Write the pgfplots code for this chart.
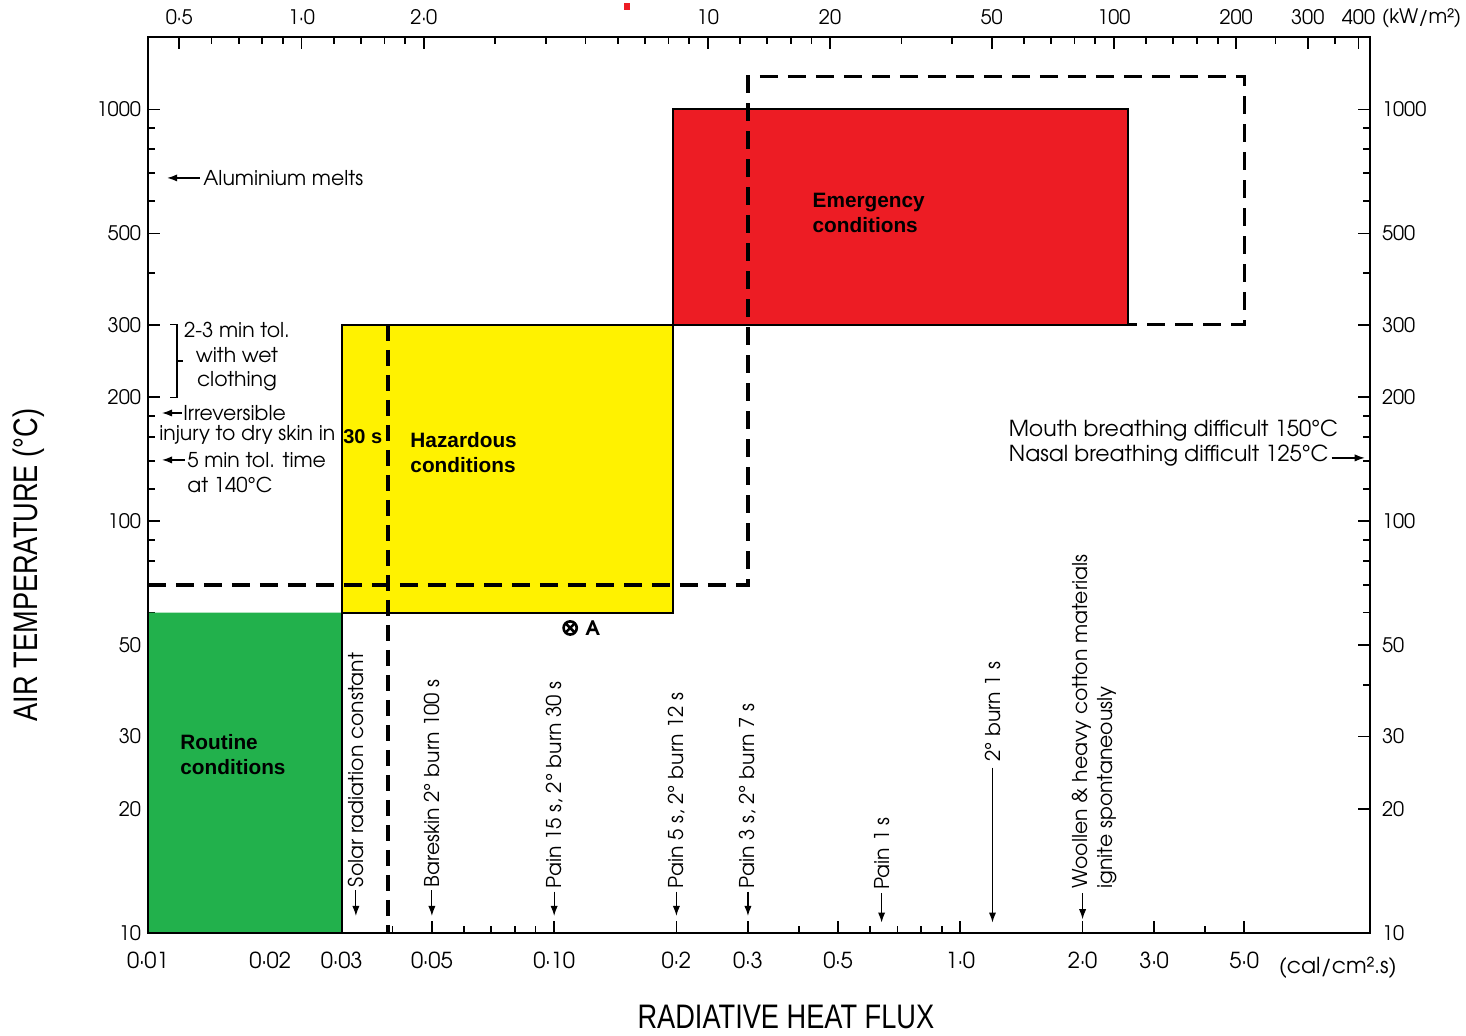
\documentclass[border=0pt]{standalone}
\usepackage{fontspec}
\setmainfont{texgyreadventor}[Extension=.otf, UprightFont=*-regular, BoldFont=*-bold, ItalicFont=*-italic, BoldItalicFont=*-bolditalic]
\newfontfamily\condfont{Liberation Sans}[FakeStretch=0.8]
\newfontfamily\arialfont{Liberation Sans}
\usepackage{pgfplots}
\pgfplotsset{compat=1.18}
\usetikzlibrary{arrows.meta,plotmarks}
\definecolor{pgreen}{HTML}{22B14C}
\definecolor{pyellow}{HTML}{FFF200}
\definecolor{pred}{HTML}{ED1C24}
\newcommand{\ann}{\fontsize{10.2}{12.25}\selectfont}
\newcommand{\annb}{\fontsize{11}{12.5}\selectfont}
\newcommand{\bfs}{\arialfont\bfseries\fontsize{10.4}{12.5}\selectfont}
\tikzset{arr/.style={line width=0.6pt, -{Latex[length=5pt,width=3.6pt]}}}
\begin{document}
\begin{tikzpicture}
\begin{axis}[
  at={(0,0)}, anchor=south west,
  width=611pt, height=448pt, scale only axis,
  xmode=log, ymode=log, ymin=10, ymax=1500,
  xmin=0.01, xmax=10.2,
  clip=false,
  axis line style={line width=1pt},
  tick align=inside,
  major tick length=6pt, minor tick length=3.5pt,
  tick style={black, line width=0.9pt},
  xtick pos=left, ytick pos=left,
  ytick={10,20,30,50,100,200,300,500,1000},
  yticklabels={10,20,30,50,100,200,300,500,1000},
  minor ytick={40,60,70,80,90,120,140,160,180,400,600,700,800,900},
  yticklabel style={font=\fontsize{10}{12}\selectfont},
  xtick={0.01,0.02,0.03,0.05,0.1,0.2,0.3,0.5,1,2,3,5},
  xticklabels={0·01,0·02,0·03,0·05,0·10,0·2,0·3,0·5,1·0,2·0,3·0,5·0},
  minor xtick={0.04,0.06,0.07,0.08,0.09,0.4,0.6,0.7,0.8,0.9,4},
  xticklabel style={font=\fontsize{11}{13}\selectfont, yshift=-6pt},
  xlabel={RADIATIVE HEAT FLUX},
  ylabel={AIR TEMPERATURE (°C)},
  xlabel style={font=\condfont\fontsize{17}{20}\selectfont, at={(axis description cs:0.522,0)}, anchor=north, yshift=-36pt, inner sep=0pt},
  ylabel style={font=\condfont\fontsize{17}{20}\selectfont, at={(axis description cs:-0.0974,0.4107)}, anchor=center, inner sep=0pt},
]
% zones
\addplot[fill=pgreen, draw=none] coordinates {(0.01,10) (0.03,10) (0.03,60) (0.01,60) (0.01,10)};
\addplot[fill=pyellow, draw=black, line width=1pt, line join=miter] coordinates {(0.03,60) (0.196,60) (0.196,300) (0.03,300) (0.03,60)};
\addplot[fill=pred, draw=black, line width=1pt, line join=miter] coordinates {(0.196,300) (2.58,300) (2.58,1000) (0.196,1000) (0.196,300)};
\addplot[black, line width=1pt] coordinates {(0.03,10) (0.03,60)};
% dashed envelope
\addplot[black, line width=1.6pt, dash pattern=on 9pt off 5pt] coordinates {(0.01,70) (0.3,70) (0.3,1200) (5,1200) (5,300) (2.58,300)};
\addplot[black, line width=1.6pt, dash pattern=on 8pt off 4.5pt] coordinates {(0.039,300) (0.039,10)};
% point A
\addplot[only marks, mark=otimes, mark size=3.3pt, line width=1.3pt, black] coordinates {(0.1095,55.06)};
\node[font=\bfseries\fontsize{10}{12}\selectfont, inner sep=0pt] at (axis cs:0.1245,55.06) {A};
% stray red mark at top
\addplot[only marks, mark=square*, mark size=1.3pt, color=pred] coordinates {(0.151,1780)};
% zone labels
\node[anchor=west, align=left, font=\bfs, inner sep=0pt] at (axis cs:0.04418,146.9) {Hazardous\\conditions};
\node[anchor=west, align=left, font=\bfs, inner sep=0pt] at (axis cs:0.4319,559.3) {Emergency\\conditions};
\node[anchor=west, align=left, font=\bfs, inner sep=0pt] at (axis cs:0.01199,27.14) {Routine\\conditions};
\node[font=\arialfont\bfseries\fontsize{10}{12}\selectfont, inner sep=0pt] at (axis cs:0.0338,160.2) {30 s};
% left annotations
\draw[arr] (axis cs:0.0134,682) -- (axis cs:0.01115,682);
\node[anchor=west, font=\ann, inner sep=0pt] at (axis cs:0.01366,682) {Aluminium melts};
\draw[line width=0.7pt] (axis cs:0.01133,300) -- (axis cs:0.01179,300) -- (axis cs:0.01179,200) -- (axis cs:0.01133,200);
\draw[line width=0.7pt] (axis cs:0.01179,245) -- (axis cs:0.0122,245);
\node[align=center, font=\ann, inner sep=0pt] at (axis cs:0.01656,250.6) {2-3 min tol.\\with wet\\clothing};
\draw[arr] (axis cs:0.0121,183.2) -- (axis cs:0.01083,183.2);
\node[anchor=west, font=\ann, inner sep=0pt] at (axis cs:0.01219,183.2) {Irreversible};
\node[anchor=west, font=\ann, inner sep=0pt] at (axis cs:0.01064,162) {injury to dry skin in};
\draw[arr] (axis cs:0.0123,140.9) -- (axis cs:0.01083,140.9);
\node[anchor=west, font=\ann, inner sep=0pt] at (axis cs:0.01247,140.9) {5 min tol. time};
\node[anchor=west, font=\ann, inner sep=0pt] at (axis cs:0.01247,122.4) {at 140°C};
% right annotations
\node[anchor=west, align=left, font=\annb, inner sep=0pt] at (axis cs:1.313,154.5) {Mouth breathing difficult 150°C\\Nasal breathing difficult 125°C};
\draw[arr] (axis cs:8.2,142.5) -- (axis cs:9.9,142.5);
% bottom annotations
\node[rotate=90, anchor=west, font=\ann, inner sep=0pt] at (axis cs:0.0325,12.9) {Solar radiation constant};
\draw[arr] (axis cs:0.0325,12.7) -- (axis cs:0.0325,11.0);
\node[rotate=90, anchor=west, font=\ann, inner sep=0pt] at (axis cs:0.05,12.9) {Bareskin 2° burn 100 s};
\draw[arr] (axis cs:0.05,12.7) -- (axis cs:0.05,11.0);
\node[rotate=90, anchor=west, font=\ann, inner sep=0pt] at (axis cs:0.1,12.8) {Pain 15 s, 2° burn 30 s};
\draw[arr] (axis cs:0.1,12.6) -- (axis cs:0.1,11.0);
\node[rotate=90, anchor=west, font=\ann, inner sep=0pt] at (axis cs:0.2,12.8) {Pain 5 s, 2° burn 12 s};
\draw[arr] (axis cs:0.2,12.6) -- (axis cs:0.2,11.0);
\node[rotate=90, anchor=west, font=\ann, inner sep=0pt] at (axis cs:0.3,12.8) {Pain 3 s, 2° burn 7 s};
\draw[arr] (axis cs:0.3,12.6) -- (axis cs:0.3,11.0);
\node[rotate=90, anchor=west, font=\ann, inner sep=0pt] at (axis cs:0.64,12.7) {Pain 1 s};
\draw[arr] (axis cs:0.64,12.5) -- (axis cs:0.64,10.6);
\node[rotate=90, anchor=west, font=\ann, inner sep=0pt] at (axis cs:1.2,26.0) {2° burn 1 s};
\draw[arr] (axis cs:1.2,25.2) -- (axis cs:1.2,10.6);
\node[rotate=90, anchor=west, font=\ann, inner sep=0pt] at (axis cs:1.986,12.8) {Woollen \& heavy cotton materials};
\node[rotate=90, anchor=west, font=\ann, inner sep=0pt] at (axis cs:2.30,12.8) {ignite spontaneously};
\draw[arr] (axis cs:2.0,12.5) -- (axis cs:2.0,10.8);
% unit texts
\node[anchor=west, font=\fontsize{11}{13}\selectfont, inner sep=0pt] at (axis cs:6.07,8.22) {(cal/cm².s)};
\node[anchor=west, font=\fontsize{10}{12}\selectfont, inner sep=0pt] at (axis cs:10.89,1669) {(kW/m²)};
\end{axis}
\begin{axis}[
  at={(0,0)}, anchor=south west,
  width=611pt, height=448pt, scale only axis,
  xmode=log, ymode=log, ymin=10, ymax=1500,
  xmin=0.41868, xmax=427.05,
  axis line style={line width=1pt},
  tick align=inside,
  major tick length=6pt, minor tick length=3.5pt,
  tick style={black, line width=0.9pt},
  xtick pos=right, ytick pos=right,
  xticklabel pos=right, yticklabel pos=right,
  ytick={10,20,30,50,100,200,300,500,1000},
  yticklabels={10,20,30,50,100,200,300,500,1000},
  minor ytick={40,60,70,80,90,120,140,160,180,400,600,700,800,900},
  xtick={0.5,1,2,10,20,50,100,200,300,400},
  xticklabels={0·5,1·0,2·0,10,20,50,100,200,300,400},
  minor xtick={0.6,0.7,0.8,0.9,1.2,1.4,1.6,1.8,3,4,5,6,7,8,9,12,14,16,18,30,40,60,70,80,90,120,140,160,180,250,350},
  xticklabel style={font=\fontsize{10}{12}\selectfont, yshift=2.5pt},
  yticklabel style={font=\fontsize{10}{12}\selectfont, xshift=2.5pt},
]
\end{axis}
\pgfresetboundingbox
\path (-74pt,-51.5pt) rectangle (659pt,466.5pt);
\end{tikzpicture}
\end{document}
